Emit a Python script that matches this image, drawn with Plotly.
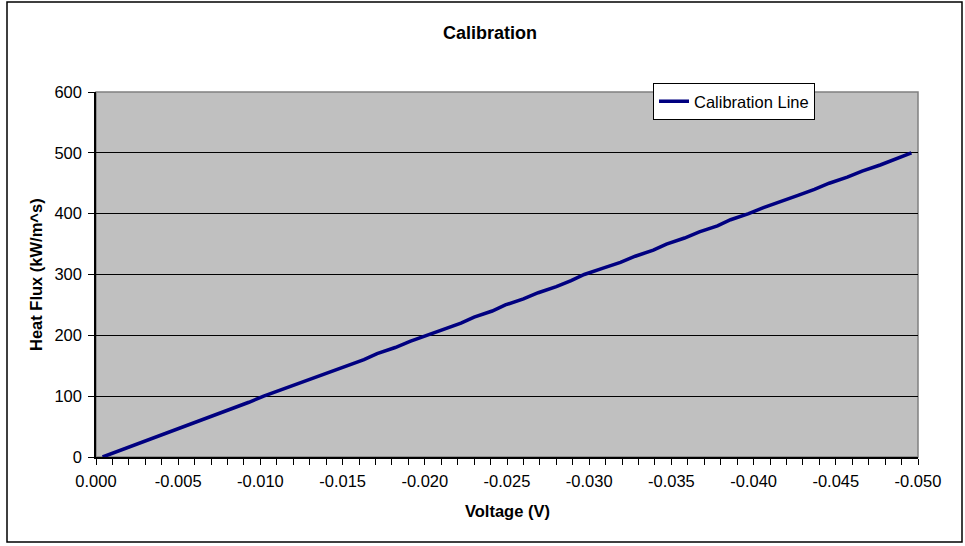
import plotly.graph_objects as go

# Calibration data: heat flux (kW/m^2 s) vs voltage (V)
heat_flux = [0, 10, 20, 30, 40, 50, 60, 70, 80, 90,
             100, 110, 120, 130, 140, 150, 160, 170, 180, 190,
             200, 210, 220, 230, 240, 250, 260, 270, 280, 290,
             300, 310, 320, 330, 340, 350, 360, 370, 380, 390,
             400, 410, 420, 430, 440, 450, 460, 470, 480, 490, 500]
voltage = [-0.0004, -0.0014, -0.0023, -0.0034, -0.0043, -0.0054, -0.0063, -0.0074, -0.0083, -0.0093,
           -0.0102, -0.0112, -0.0123, -0.0132, -0.0143, -0.0152, -0.0163, -0.0171, -0.0182, -0.0191,
           -0.0201, -0.0211, -0.0222, -0.0230, -0.0241, -0.0249, -0.0260, -0.0269, -0.0280, -0.0289,
           -0.0297, -0.0308, -0.0319, -0.0328, -0.0339, -0.0347, -0.0358, -0.0367, -0.0378, -0.0386,
           -0.0397, -0.0406, -0.0417, -0.0427, -0.0437, -0.0446, -0.0457, -0.0466, -0.0477, -0.0486,
           -0.0496]

x_ticks = [0.0, -0.005, -0.010, -0.015, -0.020, -0.025, -0.030, -0.035, -0.040, -0.045, -0.050]
x_tick_labels = ["0.000", "-0.005", "-0.010", "-0.015", "-0.020", "-0.025",
                 "-0.030", "-0.035", "-0.040", "-0.045", "-0.050"]
y_ticks = [0, 100, 200, 300, 400, 500, 600]

FONT = "Arial, Liberation Sans, sans-serif"

fig = go.Figure()
fig.add_trace(go.Scatter(
    x=voltage, y=heat_flux, mode="lines", name="Calibration Line",
    line=dict(color="#000080", width=3.5),
))

W, H = 965, 546
L, R, T, B = 96, 918, 92, 457

def px_x(p):
    return (p - L) / (R - L)

def px_y(p):
    return (B - p) / (B - T)

fig.update_layout(
    width=W, height=H,
    margin=dict(l=L, r=W - R, t=T, b=H - B),
    paper_bgcolor="white",
    plot_bgcolor="#C0C0C0",
    font=dict(family=FONT, size=16.5, color="black"),
    showlegend=True,
    legend=dict(
        x=px_x(653), y=px_y(83), xanchor="left", yanchor="top",
        bgcolor="white", bordercolor="black", borderwidth=1,
        font=dict(size=16.5), itemwidth=30,
        tracegroupgap=0,
    ),
    annotations=[
        dict(text="<b>Calibration</b>", x=px_x(490), y=px_y(33), xref="paper", yref="paper",
             showarrow=False, font=dict(size=18), xanchor="center", yanchor="middle"),
        dict(text="<b>Voltage (V)</b>", x=px_x(507), y=px_y(511), xref="paper", yref="paper",
             showarrow=False, font=dict(size=16.5), xanchor="center", yanchor="middle"),
        dict(text="<b>Heat Flux (kW/m^s)</b>", x=px_x(36), y=px_y(275), xref="paper", yref="paper",
             showarrow=False, font=dict(size=16.5), textangle=-90, xanchor="center", yanchor="middle"),
    ],
    shapes=[
        dict(type="rect", xref="paper", yref="paper",
             x0=px_x(7), x1=px_x(962), y0=px_y(542), y1=px_y(2),
             line=dict(color="black", width=1.5), fillcolor="rgba(0,0,0,0)", layer="below"),
        dict(type="rect", xref="paper", yref="paper", x0=0, x1=1, y0=0, y1=1,
             line=dict(color="#808080", width=1.5), fillcolor="rgba(0,0,0,0)", layer="below"),
    ],
)

fig.update_xaxes(
    range=[0, -0.05], tickvals=x_ticks, ticktext=x_tick_labels,
    ticks="outside", ticklen=6, tickcolor="black", tickwidth=1,
    showline=True, linecolor="black", linewidth=1.5,
    showgrid=False, zeroline=False,
    minor=dict(dtick=0.001, ticks="outside", ticklen=6, tickcolor="black", showgrid=False),
    tickfont=dict(size=16.5), ticklabelstandoff=2,
)
fig.update_yaxes(
    range=[0, 600], tickvals=y_ticks,
    ticks="outside", ticklen=6, tickcolor="black", tickwidth=1,
    showline=True, linecolor="black", linewidth=1.5,
    showgrid=True, gridcolor="black", gridwidth=1,
    zeroline=False, tickfont=dict(size=16.5), ticklabelstandoff=3,
)

fig.write_html("out.html")
